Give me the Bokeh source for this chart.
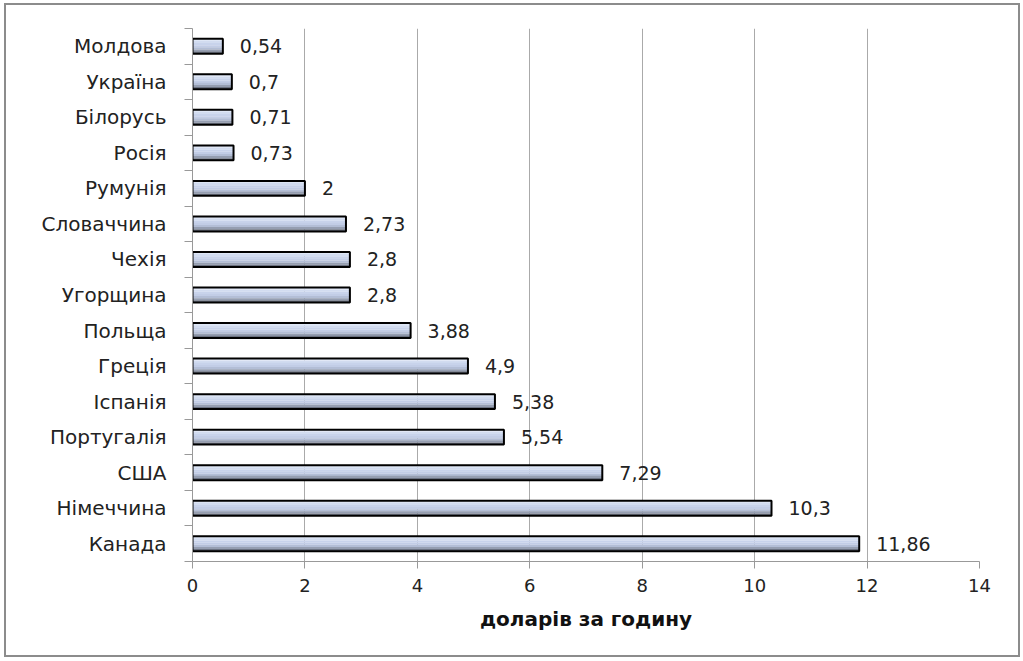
from bokeh.plotting import figure
from bokeh.models import (Range1d, LinearAxis, FixedTicker, ColumnDataSource,
                          LabelSet)
from bokeh.transform import dodge
from bokeh.embed import file_html
from bokeh.resources import INLINE
from bokeh.core.properties import value

# Data (top to bottom as in the chart)
countries = ["Молдова", "Україна", "Білорусь", "Росія", "Румунія", "Словаччина",
             "Чехія", "Угорщина", "Польща", "Греція", "Іспанія", "Португалія",
             "США", "Німеччина", "Канада"]
wages = [0.54, 0.7, 0.71, 0.73, 2, 2.73, 2.8, 2.8, 3.88, 4.9, 5.38, 5.54,
         7.29, 10.3, 11.86]
wage_labels = ["0,54", "0,7", "0,71", "0,73", "2", "2,73", "2,8", "2,8", "3,88",
               "4,9", "5,38", "5,54", "7,29", "10,3", "11,86"]
x_ticks = [0, 2, 4, 6, 8, 10, 12, 14]
x_title = "доларів за годину"

N = len(countries)
pos = [N - 0.5 - i for i in range(N)]  # category slot centres, top first
src = ColumnDataSource(dict(pos=pos, country=countries, wage=wages,
                            label=wage_labels))

FONT = "DejaVu Sans"

p = figure(width=1016, height=654, y_range=Range1d(0, N),
           x_range=Range1d(0, 14), output_backend="svg", toolbar_location=None,
           x_axis_location=None, y_axis_location=None,
           min_border_left=186, min_border_right=43, min_border_top=23,
           min_border_bottom=98)
p.outline_line_color = None
p.styles = {"border": "2px solid #8c8c8c", "margin-left": "4px",
            "margin-top": "3px"}

# gradient-like bars built from stacked strips
strip_colors = ["#dfe7f6", "#d2dcf0", "#c8d3eb", "#c2cde6", "#b3bed6",
                "#959eb1", "#6c7382"]
bar_h = 0.42
n = len(strip_colors)
sh = bar_h / n
for i, c in enumerate(strip_colors):
    off = bar_h / 2 - sh / 2 - i * sh
    p.hbar(y=dodge("pos", off), right="wage", left=0,
           height=sh * 1.03, source=src, fill_color=c, line_color=None)
p.hbar(y="pos", right="wage", left=0, height=bar_h, source=src,
       fill_color=None, line_color="black", line_width=2)

labels = LabelSet(x="wage", y="pos", text="label", source=src,
                  x_offset=17, text_align="left", text_baseline="middle",
                  text_font=value(FONT), text_font_size="19px",
                  text_color="#222222")
p.add_layout(labels)

# grid
p.xgrid.ticker = FixedTicker(ticks=x_ticks)
p.xgrid.grid_line_color = "#aaaaaa"
p.xgrid.grid_line_width = 1
p.ygrid.grid_line_color = None

# x axis
xa = LinearAxis(ticker=FixedTicker(ticks=x_ticks))
xa.axis_line_color = "#999999"
xa.major_tick_line_color = "#999999"
xa.major_tick_out = 7
xa.major_tick_in = 0
xa.minor_tick_line_color = None
xa.major_label_text_font = FONT
xa.major_label_text_font_size = "18px"
xa.major_label_text_color = "#222222"
xa.major_label_standoff = 10
xa.axis_label = x_title
xa.axis_label_text_font = FONT
xa.axis_label_text_font_style = "bold"
xa.axis_label_text_font_size = "20px"
xa.axis_label_text_color = "#111111"
xa.axis_label_standoff = 12
p.add_layout(xa, "below")

# boundary ticks on y axis
ya_ticks = LinearAxis(ticker=FixedTicker(ticks=list(range(N + 1))))
ya_ticks.major_label_text_font_size = "0px"
ya_ticks.major_label_text_color = None
ya_ticks.major_label_standoff = 0
ya_ticks.axis_line_color = "#999999"
ya_ticks.major_tick_line_color = "#999999"
ya_ticks.major_tick_out = 8
ya_ticks.major_tick_in = 0
ya_ticks.minor_tick_line_color = None
p.add_layout(ya_ticks, "left")

# category names
ya = LinearAxis(ticker=FixedTicker(ticks=pos))
ya.major_label_overrides = {pv: c for pv, c in zip(pos, countries)}
ya.axis_line_color = None
ya.major_tick_line_color = None
ya.minor_tick_line_color = None
ya.major_label_text_font = FONT
ya.major_label_text_font_size = "20px"
ya.major_label_text_color = "#222222"
ya.major_label_standoff = 12
p.add_layout(ya, "left")

open("out.html", "w").write(file_html(p, INLINE))
